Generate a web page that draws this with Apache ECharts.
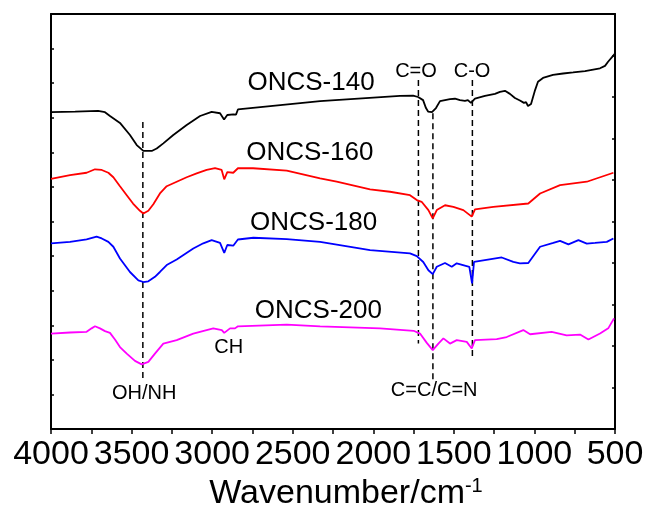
<!DOCTYPE html>
<html>
<head>
<meta charset="utf-8">
<script src="https://cdn.jsdelivr.net/npm/echarts@6/dist/echarts.min.js"></script>
<style>html,body{margin:0;padding:0;background:#fff}#c{width:648px;height:507px}</style>
</head>
<body>
<div id="c"></div>
<script>
// ---- data (wavenumber in cm-1, transmittance in offset arbitrary units) ----
var oncs140_x = [4000,3850,3708,3665,3634,3572,3510,3468,3427,3375,3344,3303,3241,3158,3075,3003,2951,2926,2906,2869,2852,2840,2330,1834,1753,1722,1691,1673,1660,1636,1627,1611,1586,1555,1524,1493,1462,1431,1413,1394,1369,1307,1245,1214,1183,1152,1121,1090,1065,1052,1040,1021,996,978,947,885,822,760,686,593,562,543,512,503];
var oncs140_y = [91.6,91.8,92.0,91.6,90.5,88.5,85.0,82.1,80.4,80.4,81.1,82.6,85.0,87.9,90.5,91.7,91.3,89.5,90.8,91.0,90.9,92.4,94.8,96.3,96.4,96.0,95.1,92.8,91.8,91.6,91.4,92.8,94.8,95.1,95.4,95.5,95.1,94.9,95.1,94.3,95.5,96.3,96.9,97.5,97.8,96.9,95.7,95.0,94.3,94.5,93.4,94.0,98.0,100.4,101.5,102.4,102.8,103.1,103.5,104.3,105.0,106.2,107.9,108.4];

var oncs160_x = [4000,3882,3779,3727,3685,3644,3613,3572,3530,3491,3448,3427,3396,3365,3324,3282,3220,3158,3096,3034,2982,2941,2925,2906,2869,2858,2840,2746,2537,2330,2227,2020,1896,1772,1730,1700,1658,1631,1606,1555,1503,1441,1389,1369,1255,1038,965,841,675,510];
var oncs160_y = [72.3,73.4,74.1,75.1,74.9,74.1,72.8,70.2,67.6,65.2,63.1,62.3,63.1,65.0,68.1,70.2,71.5,72.8,73.9,74.9,75.4,74.9,72.2,74.3,74.1,73.7,75.4,75.4,74.7,72.5,71.5,69.3,68.6,67.6,66.2,65.7,63.3,60.9,63.3,64.7,64.2,63.3,61.4,63.5,64.2,65.2,68.1,70.5,71.5,74.1];

var oncs180_x = [4000,3882,3779,3717,3685,3644,3613,3572,3510,3458,3427,3396,3355,3324,3282,3220,3117,3055,3003,2951,2925,2906,2869,2858,2840,2744,2537,2330,2020,1772,1730,1690,1658,1631,1606,1555,1513,1482,1404,1387,1375,1203,1131,1090,1038,965,883,841,789,727,675,624,551,510];
var oncs180_y = [53.7,54.1,54.8,55.6,55.1,54.1,52.7,49.3,45.4,43.0,42.5,42.7,44.0,45.4,47.4,49.0,52.2,53.7,54.6,53.8,50.9,53.2,53.0,52.7,54.8,55.3,54.9,54.1,51.7,50.8,50.0,48.3,45.9,44.8,46.9,48.0,46.9,47.9,46.9,42.1,48.3,49.6,48.3,47.9,48.0,52.7,53.8,54.4,53.4,54.6,53.6,53.8,54.1,55.1];

var oncs200_x = [4000,3882,3779,3748,3727,3696,3665,3634,3603,3572,3530,3479,3437,3396,3355,3303,3220,3117,2993,2940,2925,2889,2858,2840,2537,2330,1958,1750,1710,1668,1631,1596,1565,1524,1482,1420,1389,1369,1234,1172,1069,1027,893,800,717,665,593,542,506];
var oncs200_y = [27.6,27.9,28.1,29.1,29.7,29.1,28.3,27.8,25.9,23.7,21.8,19.7,18.7,19.4,21.8,24.7,25.7,27.6,29.1,28.6,27.8,29.1,29.1,29.7,30.2,29.7,29.1,28.4,27.6,24.9,22.8,24.7,26.2,24.7,25.7,25.2,23.3,25.7,26.0,26.6,28.6,27.4,28.1,27.1,27.3,25.9,27.6,29.1,32.0];

var seriesNames = ['ONCS-140','ONCS-160','ONCS-180','ONCS-200'];
var seriesColors = ['#000000','#ff0000','#0000ff','#ff00ff'];

// dashed guide lines: wavenumber, from value, to value
var guideX = [3430, 1720, 1630, 1385];
var guideFrom = [88.8, 100.9, 91.3, 100.9];
var guideTo = [14.1, 24.7, 13.6, 20.8];

// annotation texts and their anchor points (data coords)
var seriesLabelX = [2386, 2394, 2370, 2341];
var seriesLabelY = [100.0, 79.9, 59.5, 34.3];
var bandLabels = ['C=O','C-O','CH','OH/NH','C=C/C=N'];
var bandLabelX = [1735, 1387, 2897, 3422, 1622];
var bandLabelY = [103.5, 103.5, 23.5, 10.3, 11.05];

var xTickLabels = ['4000','3500','3000','2500','2000','1500','1000','500'];

function zip(a, b){ return a.map(function(v,i){ return [v, b[i]]; }); }

var FONT = '"Liberation Sans", Arial, sans-serif';
var series = [];
var xs = [oncs140_x, oncs160_x, oncs180_x, oncs200_x];
var ys = [oncs140_y, oncs160_y, oncs180_y, oncs200_y];
for (var i = 0; i < 4; i++) {
  series.push({
    name: seriesNames[i], type: 'line', data: zip(xs[i], ys[i]),
    showSymbol: false, symbol: 'none', smooth: false,
    lineStyle: {color: seriesColors[i], width: 1.8}, z: 3
  });
}
for (var j = 0; j < guideX.length; j++) {
  series.push({
    type: 'line', data: [[guideX[j], guideFrom[j]], [guideX[j], guideTo[j]]],
    showSymbol: false, symbol: 'none',
    lineStyle: {color: '#000', width: 1.5, type: [6, 4]}, z: 2
  });
}
series.push({
  type: 'scatter', symbolSize: 0, z: 5, itemStyle: {opacity: 1},
  data: seriesNames.map(function(n, k){ return {name: n, value: [seriesLabelX[k], seriesLabelY[k]]}; }),
  label: {show: true, position: 'inside', formatter: '{b}', color: '#000', opacity: 1, textBorderWidth: 0, fontSize: 26, fontFamily: FONT}
});
series.push({
  type: 'scatter', symbolSize: 0, z: 5, itemStyle: {opacity: 1},
  data: bandLabels.map(function(n, k){ return {name: n, value: [bandLabelX[k], bandLabelY[k]]}; }),
  label: {show: true, position: 'inside', formatter: '{b}', color: '#000', opacity: 1, textBorderWidth: 0, fontSize: 20, fontFamily: FONT}
});

var chart = echarts.init(document.getElementById('c'), null, {renderer: 'canvas'});
chart.setOption({
  animation: false,
  backgroundColor: '#fff',
  grid: {left: 51, right: 33, top: 14, bottom: 78, containLabel: false, outerBoundsMode: 'none'},
  xAxis: [{
    type: 'value', min: 500, max: 4000, interval: 500, inverse: true, position: 'bottom',
    axisLine: {show: true, onZero: false, lineStyle: {color: '#000', width: 2}},
    axisTick: {show: true, inside: false, length: 5, lineStyle: {color: '#000', width: 1.5}},
    minorTick: {show: true, splitNumber: 2, length: 5, lineStyle: {color: '#000', width: 1.5}},
    splitLine: {show: false},
    axisLabel: {show: true, margin: 9, color: '#000', fontSize: 34, fontFamily: FONT,
      formatter: function(v){ return xTickLabels.indexOf(String(v)) >= 0 ? String(v) : ''; }},
    name: 'Wavenumber/cm{sup|-1}', nameLocation: 'middle', nameGap: 36,
    nameTextStyle: {color: '#000', fontSize: 34, fontFamily: FONT, padding: [0, 0, 0, 26],
      rich: {sup: {fontSize: 20, verticalAlign: 'top', color: '#000', fontFamily: FONT, padding: [0,0,14,0]}}}
  }, {
    type: 'value', min: 500, max: 4000, inverse: true, position: 'top',
    axisLine: {show: true, onZero: false, lineStyle: {color: '#000', width: 2}},
    axisTick: {show: false}, axisLabel: {show: false}, splitLine: {show: false}
  }],
  yAxis: [{
    type: 'value', min: 0, max: 120, interval: 10, position: 'left',
    axisLine: {show: true, onZero: false, lineStyle: {color: '#000', width: 2}},
    axisTick: {show: true, inside: true, length: 3, lineStyle: {color: '#000', width: 1.5}},
    axisLabel: {show: false}, splitLine: {show: false}
  }, {
    type: 'value', min: 0, max: 120, interval: 12, position: 'right',
    axisLine: {show: true, onZero: false, lineStyle: {color: '#000', width: 2}},
    axisTick: {show: true, inside: true, length: 3, lineStyle: {color: '#000', width: 1.5}},
    axisLabel: {show: false}, splitLine: {show: false}
  }],
  series: series
});
</script>
</body>
</html>
